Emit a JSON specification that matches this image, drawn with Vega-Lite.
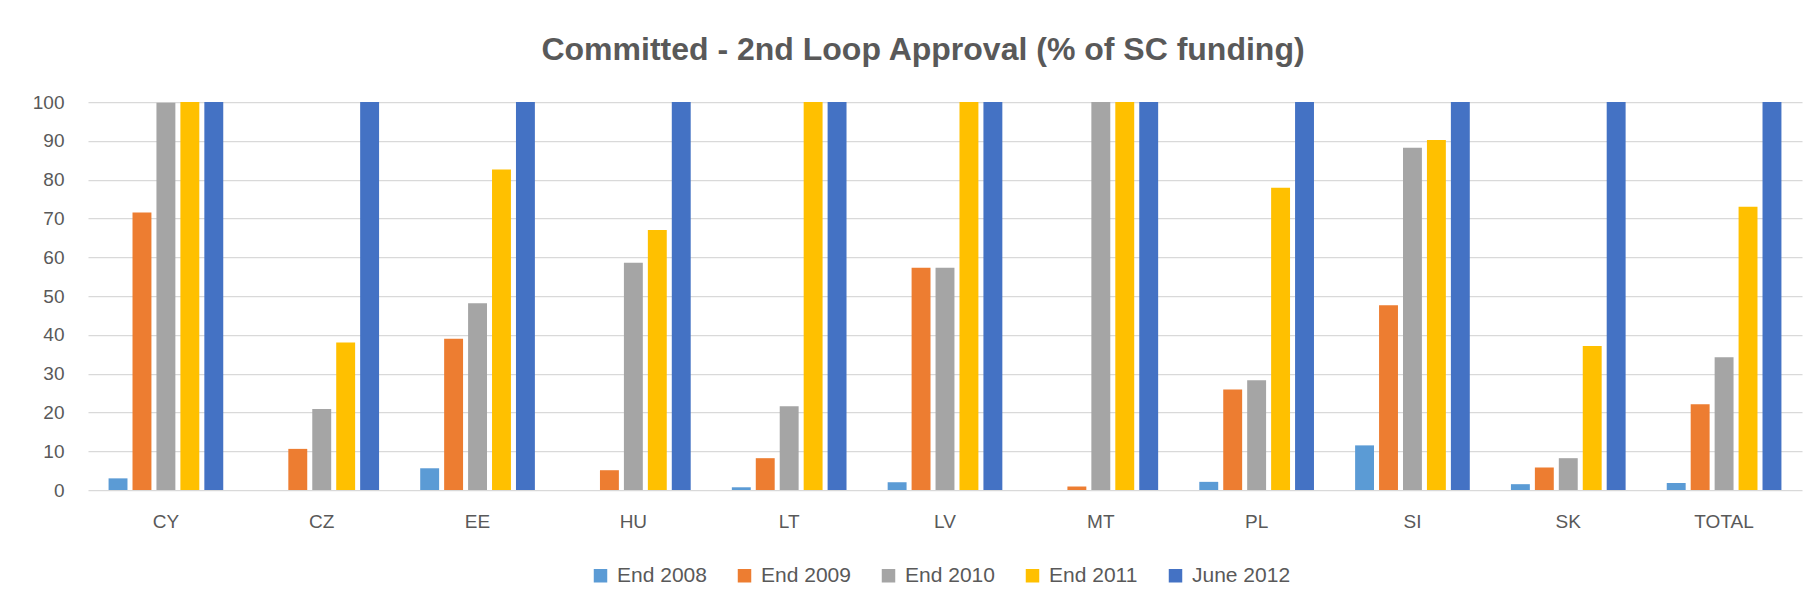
{
  "$schema": "https://vega.github.io/schema/vega-lite/v6.json",
  "width": 1714,
  "height": 388,
  "autosize": {"type": "none"},
  "padding": {"left": 88, "top": 102, "right": 9, "bottom": 115},
  "background": "white",
  "title": {
    "text": "Committed - 2nd Loop Approval (% of SC funding)",
    "anchor": "middle",
    "dx": -22,
    "offset": 26,
    "font": "Liberation Sans",
    "fontSize": 32,
    "fontWeight": "bold",
    "color": "#595959"
  },
  "data": {
    "values": [
      {"country": "CY", "period": "End 2008", "value": 3.0},
      {"country": "CY", "period": "End 2009", "value": 71.5},
      {"country": "CY", "period": "End 2010", "value": 99.8},
      {"country": "CY", "period": "End 2011", "value": 100},
      {"country": "CY", "period": "June 2012", "value": 100},
      {"country": "CZ", "period": "End 2008", "value": 0},
      {"country": "CZ", "period": "End 2009", "value": 10.6},
      {"country": "CZ", "period": "End 2010", "value": 20.9},
      {"country": "CZ", "period": "End 2011", "value": 38.0},
      {"country": "CZ", "period": "June 2012", "value": 100},
      {"country": "EE", "period": "End 2008", "value": 5.6},
      {"country": "EE", "period": "End 2009", "value": 39.0},
      {"country": "EE", "period": "End 2010", "value": 48.1},
      {"country": "EE", "period": "End 2011", "value": 82.6},
      {"country": "EE", "period": "June 2012", "value": 100},
      {"country": "HU", "period": "End 2008", "value": 0},
      {"country": "HU", "period": "End 2009", "value": 5.1},
      {"country": "HU", "period": "End 2010", "value": 58.6},
      {"country": "HU", "period": "End 2011", "value": 67.0},
      {"country": "HU", "period": "June 2012", "value": 100},
      {"country": "LT", "period": "End 2008", "value": 0.7},
      {"country": "LT", "period": "End 2009", "value": 8.2},
      {"country": "LT", "period": "End 2010", "value": 21.6},
      {"country": "LT", "period": "End 2011", "value": 100},
      {"country": "LT", "period": "June 2012", "value": 100},
      {"country": "LV", "period": "End 2008", "value": 2.0},
      {"country": "LV", "period": "End 2009", "value": 57.3},
      {"country": "LV", "period": "End 2010", "value": 57.3},
      {"country": "LV", "period": "End 2011", "value": 100},
      {"country": "LV", "period": "June 2012", "value": 100},
      {"country": "MT", "period": "End 2008", "value": 0},
      {"country": "MT", "period": "End 2009", "value": 0.9},
      {"country": "MT", "period": "End 2010", "value": 100},
      {"country": "MT", "period": "End 2011", "value": 100},
      {"country": "MT", "period": "June 2012", "value": 100},
      {"country": "PL", "period": "End 2008", "value": 2.1},
      {"country": "PL", "period": "End 2009", "value": 25.9},
      {"country": "PL", "period": "End 2010", "value": 28.3},
      {"country": "PL", "period": "End 2011", "value": 77.9},
      {"country": "PL", "period": "June 2012", "value": 100},
      {"country": "SI", "period": "End 2008", "value": 11.5},
      {"country": "SI", "period": "End 2009", "value": 47.6},
      {"country": "SI", "period": "End 2010", "value": 88.2},
      {"country": "SI", "period": "End 2011", "value": 90.2},
      {"country": "SI", "period": "June 2012", "value": 100},
      {"country": "SK", "period": "End 2008", "value": 1.5},
      {"country": "SK", "period": "End 2009", "value": 5.8},
      {"country": "SK", "period": "End 2010", "value": 8.2},
      {"country": "SK", "period": "End 2011", "value": 37.1},
      {"country": "SK", "period": "June 2012", "value": 100},
      {"country": "TOTAL", "period": "End 2008", "value": 1.8},
      {"country": "TOTAL", "period": "End 2009", "value": 22.1},
      {"country": "TOTAL", "period": "End 2010", "value": 34.2},
      {"country": "TOTAL", "period": "End 2011", "value": 73.0},
      {"country": "TOTAL", "period": "June 2012", "value": 100}
    ]
  },
  "mark": {"type": "bar"},
  "encoding": {
    "x": {
      "field": "country",
      "type": "nominal",
      "sort": null,
      "scale": {"paddingInner": 0.264, "paddingOuter": 0.132},
      "axis": {
        "title": null,
        "labelAngle": 0,
        "ticks": false,
        "domain": false,
        "labelPadding": 22,
        "labelFont": "Liberation Sans",
        "labelFontSize": 19,
        "labelColor": "#595959"
      }
    },
    "xOffset": {
      "field": "period",
      "type": "nominal",
      "sort": ["End 2008", "End 2009", "End 2010", "End 2011", "June 2012"],
      "scale": {"paddingInner": 0.21, "paddingOuter": 0}
    },
    "y": {
      "field": "value",
      "type": "quantitative",
      "scale": {"domain": [0, 100], "nice": false},
      "axis": {
        "title": null,
        "values": [0, 10, 20, 30, 40, 50, 60, 70, 80, 90, 100],
        "domain": false,
        "ticks": false,
        "labelPadding": 24,
        "labelFont": "Liberation Sans",
        "labelFontSize": 19,
        "labelColor": "#595959",
        "gridColor": "#d9d9d9",
        "gridWidth": 1.25
      }
    },
    "color": {
      "field": "period",
      "type": "nominal",
      "sort": ["End 2008", "End 2009", "End 2010", "End 2011", "June 2012"],
      "scale": {
        "domain": ["End 2008", "End 2009", "End 2010", "End 2011", "June 2012"],
        "range": ["#5b9bd5", "#ed7d31", "#a5a5a5", "#ffc000", "#4472c4"]
      },
      "legend": {
        "title": null,
        "orient": "none",
        "direction": "horizontal",
        "legendX": 502,
        "legendY": 463,
        "symbolType": "square",
        "symbolSize": 182,
        "symbolStrokeWidth": 0,
        "labelFont": "Liberation Sans",
        "labelFontSize": 21,
        "labelColor": "#595959",
        "labelOffset": 6,
        "columnPadding": 27
      }
    }
  },
  "config": {
    "view": {"stroke": null}
  }
}
